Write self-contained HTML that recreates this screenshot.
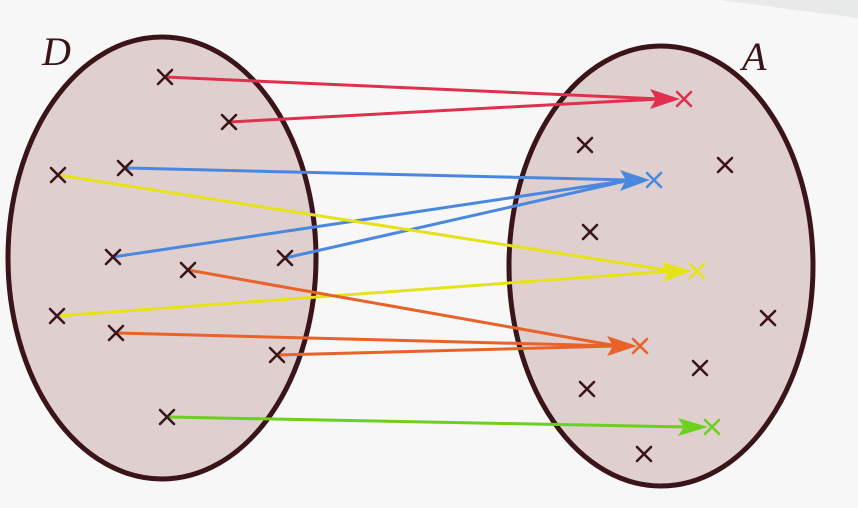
<!DOCTYPE html><html><head><style>body{margin:0;background:#f6f7f6}svg{display:block}</style></head><body>
<svg width="858" height="508" xmlns="http://www.w3.org/2000/svg">
<rect width="858" height="508" fill="#f6f7f6"/>
<polygon points="720,0 858,0 858,18" fill="#e8eaea"/>
<ellipse cx="162" cy="258" rx="154" ry="221" fill="#dfd0cf" stroke="#3a1418" stroke-width="5"/>
<ellipse cx="661" cy="266" rx="152" ry="220" fill="#dfd0cf" stroke="#3a1418" stroke-width="5"/>
<text x="42" y="65" font-family="Liberation Serif,serif" font-style="italic" font-size="40" fill="#3a1418">D</text>
<text x="742" y="70" font-family="Liberation Serif,serif" font-style="italic" font-size="40" fill="#3a1418">A</text>
<g stroke-width="3" fill="none" stroke-linecap="round">
<g stroke="#e0304e"><line x1="165" y1="77" x2="660" y2="99"/><line x1="229" y1="122" x2="660" y2="99"/></g>
<g stroke="#4a88e0"><line x1="125" y1="168" x2="630" y2="180"/><line x1="113" y1="257" x2="630" y2="180"/><line x1="285" y1="258" x2="630" y2="180"/></g>
<g stroke="#e6e21a"><line x1="58" y1="175" x2="673" y2="271"/><line x1="57" y1="316" x2="673" y2="271"/></g>
<g stroke="#e8622a"><line x1="188" y1="270" x2="617" y2="346"/><line x1="116" y1="333" x2="617" y2="346"/><line x1="277" y1="355" x2="617" y2="346"/></g>
<g stroke="#6cd01c"><line x1="167" y1="417" x2="688" y2="427"/></g>
</g>
<g>
<polygon points="680,99 650,89 656,99 650,109" fill="#e0304e"/>
<polygon points="650,180 620,170 626,180 620,191" fill="#4a88e0"/>
<polygon points="692,271 662,262 668,272 663,282" fill="#e6e21a"/>
<polygon points="637,346 607,336 613,346 607,356" fill="#e8622a"/>
<polygon points="708,427 678,418 684,427 678,436" fill="#6cd01c"/>
</g>
<g stroke-width="2.6" stroke-linecap="round">
<g stroke="#3a1418">
<path d="M158,70l14,14M172,70l-14,14"/>
<path d="M222,115l14,14M236,115l-14,14"/>
<path d="M51,168l14,14M65,168l-14,14"/>
<path d="M118,161l14,14M132,161l-14,14"/>
<path d="M106,250l14,14M120,250l-14,14"/>
<path d="M181,263l14,14M195,263l-14,14"/>
<path d="M278,251l14,14M292,251l-14,14"/>
<path d="M50,309l14,14M64,309l-14,14"/>
<path d="M109,326l14,14M123,326l-14,14"/>
<path d="M270,348l14,14M284,348l-14,14"/>
<path d="M160,410l14,14M174,410l-14,14"/>
<path d="M578,138l14,14M592,138l-14,14"/>
<path d="M718,158l14,14M732,158l-14,14"/>
<path d="M583,225l14,14M597,225l-14,14"/>
<path d="M761,311l14,14M775,311l-14,14"/>
<path d="M693,361l14,14M707,361l-14,14"/>
<path d="M580,382l14,14M594,382l-14,14"/>
<path d="M637,447l14,14M651,447l-14,14"/>
</g>
<path stroke="#e0304e" d="M677,92l14,14M691,92l-14,14"/>
<path stroke="#4a88e0" d="M647,173l14,14M661,173l-14,14"/>
<path stroke="#e6e21a" d="M690,264l14,14M704,264l-14,14"/>
<path stroke="#e8622a" d="M633,339l14,14M647,339l-14,14"/>
<path stroke="#6cd01c" d="M705,420l14,14M719,420l-14,14"/>
</g>
</svg></body></html>
